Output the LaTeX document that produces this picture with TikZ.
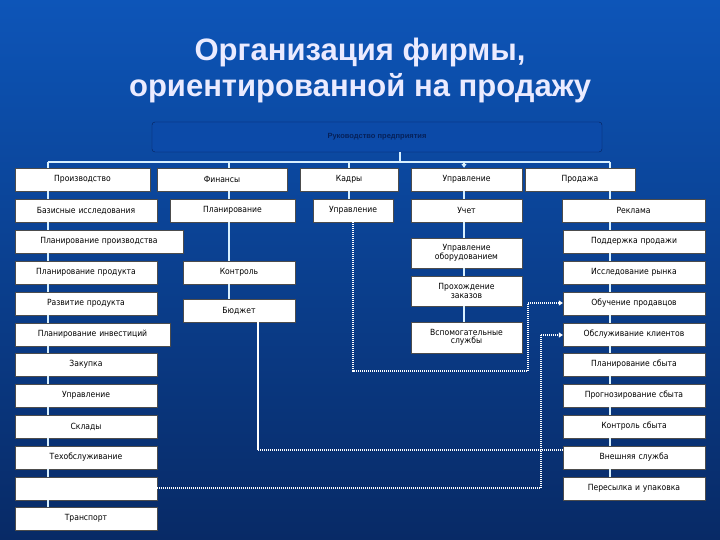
\documentclass[tikz,border=0pt]{standalone}
\usepackage{fontspec}
\setmainfont{Liberation Sans}
\newfontfamily\boxfont{DejaVu Sans Condensed}
\usetikzlibrary{arrows.meta}
\definecolor{bgtop}{HTML}{0D55B8}
\definecolor{bgbot}{HTML}{082A66}
\definecolor{linec}{HTML}{D8F0FF}
\definecolor{topbox}{HTML}{0C4AA8}
\definecolor{topedge}{HTML}{06215A}
\tikzset{
  box/.style={draw=black!70,fill=white,inner sep=1pt,align=center,font=\boxfont\fontsize{8.5}{9.5}\selectfont,text=black},
  conn/.style={draw=linec,line width=1.4pt},
  dotc/.style={draw=white,line width=1.6pt,dash pattern=on 1pt off 1pt},
  arr/.style={-{Triangle[length=4pt,width=5pt]}}
}
\newcommand\mybox[6]{\node[box,minimum width={(#4-#2)*1pt},minimum height={(#5-#3)*1pt},text width={(#4-#2-4)*1pt}] (#1) at ({(#2+#4)/2},{(#3+#5)/2}) {#6};}
\begin{document}
\begin{tikzpicture}[x=1pt,y=-1pt]
\useasboundingbox (0,0) rectangle (720,540);
\shade[top color=bgtop,bottom color=bgbot] (0,0) rectangle (720,540);
\node[font=\bfseries\fontsize{31}{36}\selectfont,text=white!92!blue,align=center] (title) at (360,70) {Организация фирмы,\\ориентированной на продажу};
\node[draw=topedge,fill=topbox,rounded corners=3pt,minimum width=450pt,minimum height=30pt,font=\bfseries\fontsize{7.5}{9}\selectfont,text=topedge] (top) at (377,137) {Руководство предприятия};
% row 1
\mybox{prod}{15}{168}{150}{191}{Производство}
\mybox{fin}{157}{168}{287}{191}{Финансы}
\mybox{kadr}{300}{168}{398}{191}{Кадры}
\mybox{upr}{411}{168}{522}{191}{Управление}
\mybox{prodazha}{525}{168}{635}{191}{Продажа}
% row 2
\mybox{baz}{15}{199}{157}{222}{Базисные исследования}
\mybox{plan}{170}{199}{295}{222}{Планирование}
\mybox{kupr}{313}{199}{393}{222}{Управление}
\mybox{uchet}{411}{199}{522}{222}{Учет}
\mybox{reklama}{562}{199}{705}{222}{Реклама}
% left column
\mybox{planpr}{15}{230}{183}{253}{Планирование производства}
\mybox{planprod}{15}{261}{157}{284}{Планирование продукта}
\mybox{razv}{15}{292}{157}{315}{Развитие продукта}
\mybox{planinv}{15}{323}{170}{346}{Планирование инвестиций}
\mybox{zak}{15}{353}{157}{376}{Закупка}
\mybox{lupr}{15}{384}{157}{407}{Управление}
\mybox{sklad}{15}{415}{157}{438}{Склады}
\mybox{tech}{15}{446}{157}{469}{Техобслуживание}
\mybox{blank}{15}{477}{157}{500}{}
\mybox{trans}{15}{507}{157}{530}{Транспорт}
% finance column
\mybox{kontr}{183}{261}{295}{284}{Контроль}
\mybox{budg}{183}{299}{295}{322}{Бюджет}
% management column
\mybox{oborud}{411}{238}{522}{268}{Управление\\[-1pt]оборудованием}
\mybox{zakaz}{411}{276}{522}{306}{Прохождение\\[-1pt]заказов}
\mybox{vspom}{411}{322}{522}{353}{Вспомогательные\\[-1pt]службы}
% sales column
\mybox{podd}{563}{230}{705}{253}{Поддержка продажи}
\mybox{issl}{563}{261}{705}{284}{Исследование рынка}
\mybox{obuch}{563}{292}{705}{315}{Обучение продавцов}
\mybox{obsl}{563}{323}{705}{346}{Обслуживание клиентов}
\mybox{plans}{563}{353}{705}{376}{Планирование сбыта}
\mybox{progn}{563}{384}{705}{407}{Прогнозирование сбыта}
\mybox{kontrs}{563}{415}{705}{438}{Контроль сбыта}
\mybox{vnesh}{563}{446}{705}{469}{Внешняя служба}
\mybox{peres}{563}{477}{705}{500}{Пересылка и упаковка}
% bus
\coordinate (busL) at (48,162);
\coordinate (busR) at (610,162);
\coordinate (busM) at (400,162);
\draw[conn] (busL) -- (busR);
\draw[conn] (top.south -| busM) -- (busM);
\draw[conn] (busL) -- (prod.north -| busL);
\draw[conn] (fin.north -| 229,0) -- (229,162);
\draw[conn] (kadr.north -| 349,0) -- (349,162);
\draw[conn,arr] (464,162) -- (upr.north -| 464,0);
\draw[conn] (busR) -- (prodazha.north -| busR);
% left spine
\foreach \a/\b in {prod/baz,baz/planpr,planpr/planprod,planprod/razv,razv/planinv,planinv/zak,zak/lupr,lupr/sklad,sklad/tech,tech/blank,blank/trans}
  \draw[conn] (\a.south -| busL) -- (\b.north -| busL);
% finance
\draw[conn] (fin.south -| 229,0) -- (plan.north -| 229,0);
\draw[conn] (plan.south -| 229,0) -- (kontr.north -| 229,0);
\draw[conn] (kontr.south -| 229,0) -- (budg.north -| 229,0);
\coordinate (bc) at (258,450);
\draw[conn,line width=1.2pt,draw=white] (budg.south -| bc) -- (bc);
\draw[dotc] (bc) -- (vnesh.west |- bc);
% kadry
\draw[conn] (kadr.south -| 349,0) -- (kupr.north -| 349,0);
\coordinate (k1) at (353,371);
\coordinate (k2) at (528,371);
\coordinate (k3) at (528,303);
\draw[dotc] (kupr.south -| k1) -- (k1) -- (k2) -- (k3);
\draw[dotc,arr] (k3) -- (obuch.west |- k3);
% blank to clients
\coordinate (b1) at (541,488);
\coordinate (b2) at (541,335);
\draw[dotc] (blank.east |- b1) -- (b1) -- (b2);
\draw[dotc,arr] (b2) -- (obsl.west |- b2);
% management column
\foreach \a/\b in {upr/uchet,uchet/oborud,oborud/zakaz,zakaz/vspom}
  \draw[conn] (\a.south -| 464,0) -- (\b.north -| 464,0);
% sales column
\foreach \a/\b in {prodazha/reklama,reklama/podd,podd/issl,issl/obuch,obuch/obsl,obsl/plans,plans/progn,progn/kontrs,kontrs/vnesh,vnesh/peres}
  \draw[conn] (\a.south -| busR) -- (\b.north -| busR);
\end{tikzpicture}
\end{document}
